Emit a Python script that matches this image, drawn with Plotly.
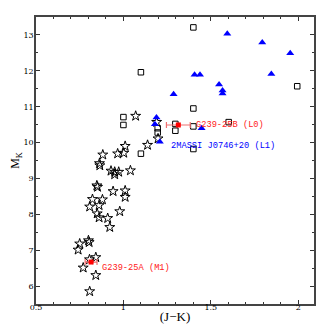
import plotly.graph_objects as go

star_x = [1.070, 1.19, 1.198, 1.138, 1.010, 1.002, 0.967, 0.882, 0.863, 0.865,
          0.929, 0.950, 0.973, 0.950, 1.040, 0.848, 0.852, 0.941, 1.010, 1.010,
          0.823, 0.880, 0.807, 0.861, 0.850, 0.861, 0.910, 0.979, 0.922, 0.800,
          0.804, 0.750, 0.741, 0.842, 0.806, 0.770, 0.842, 0.807]
star_y = [10.74, 10.57, 10.11, 9.93, 9.90, 9.71, 9.69, 9.66, 9.42, 9.36,
          9.21, 9.18, 9.18, 9.11, 9.22, 8.80, 8.76, 8.64, 8.66, 8.48,
          8.42, 8.41, 8.21, 8.25, 8.02, 7.91, 7.89, 8.08, 7.64, 7.27,
          7.22, 7.18, 7.01, 6.80, 6.74, 6.51, 6.30, 5.85]

sq_x = [1.40, 1.10, 1.994, 1.40, 1.00, 1.00, 1.196, 1.196, 1.10, 1.297, 1.297, 1.40, 1.602, 1.40]
sq_y = [13.21, 11.96, 11.57, 10.95, 10.71, 10.49, 10.40, 10.28, 9.69, 10.52, 10.33, 10.45, 10.57, 9.82]

tri_x = [1.594, 1.794, 1.954, 1.407, 1.438, 1.846, 1.547, 1.567, 1.567, 1.287, 1.447, 1.189, 1.180, 1.208]
tri_y = [13.03, 12.79, 12.49, 11.89, 11.89, 11.91, 11.62, 11.45, 11.37, 11.35, 10.40, 10.70, 10.51, 10.02]

red_x = [1.314, 0.815]
red_y = [10.49, 6.67]
red_xerr = [0.068, 0.034]
red_names = ["G239-25B (L0)", "G239-25A (M1)"]

x_ticks = [0.5, 1, 1.5, 2]
x_ticktext = ["0.5", "1", "1.5", "2"]
y_ticks = [6, 7, 8, 9, 10, 11, 12, 13]

fig = go.Figure()
fig.add_trace(go.Scatter(x=star_x, y=star_y, mode="markers",
                         marker=dict(symbol="star-open", size=7.5, color="black", line=dict(width=1, color="black"))))
fig.add_trace(go.Scatter(x=sq_x, y=sq_y, mode="markers",
                         marker=dict(symbol="square-open", size=5.5, color="black", line=dict(width=1, color="black"))))
fig.add_trace(go.Scatter(x=tri_x, y=tri_y, mode="markers",
                         marker=dict(symbol="triangle-up", size=7, color="#0000ff", line=dict(width=0))))
fig.add_trace(go.Scatter(x=red_x, y=red_y, mode="markers",
                         error_x=dict(type="data", array=red_xerr, color="#f07070", thickness=1.2, width=3),
                         marker=dict(symbol="square", size=5, color="#ff0000")))

fig.add_annotation(x=1.405, y=red_y[0], text=red_names[0], showarrow=False, xanchor="left",
                   font=dict(family="Liberation Mono", size=8.7, color="#ff2020"))
fig.add_annotation(x=0.868, y=6.49, text=red_names[1], showarrow=False, xanchor="left",
                   font=dict(family="Liberation Mono", size=8.7, color="#ff2020"))
fig.add_annotation(x=1.26, y=9.9, text="2MASSI J0746+20 (L1)", showarrow=False, xanchor="left",
                   font=dict(family="Liberation Mono", size=8.7, color="#0000ff"))

fig.update_layout(
    width=324, height=324, showlegend=False,
    plot_bgcolor="white", paper_bgcolor="white",
    margin=dict(l=28, r=18, t=9, b=28, autoexpand=False),
    font=dict(family="Liberation Serif", color="black"),
)
fig.update_xaxes(range=[0.5, 2.09], tickvals=x_ticks, ticktext=x_ticktext, automargin=False,
                 ticks="inside", ticklen=4, tickwidth=1, tickcolor="#333",
                 ticklabelstandoff=-5,
                 minor=dict(dtick=0.1, ticks="inside", ticklen=2.5, tickcolor="#333"),
                 showline=True, linecolor="#444", linewidth=1.5, mirror="allticks",
                 showgrid=False, zeroline=False,
                 tickfont=dict(size=8, family="DejaVu Serif", color="black"),
                 title=dict(text="(J\u2212K)", font=dict(size=13, family="Liberation Serif", color="black"), standoff=1))
fig.update_yaxes(range=[5.5, 13.5], tickvals=y_ticks, automargin=False,
                 ticks="inside", ticklen=4, tickwidth=1, tickcolor="#333",
                 ticklabelstandoff=-1,
                 minor=dict(dtick=0.5, ticks="inside", ticklen=2.5, tickcolor="#333"),
                 showline=True, linecolor="#444", linewidth=1.5, mirror="allticks",
                 showgrid=False, zeroline=False,
                 tickfont=dict(size=8, family="DejaVu Serif", color="black"),
                 title=dict(text="M<sub>K</sub>", font=dict(size=12, family="Liberation Serif", color="black"), standoff=4))

fig.write_html("out.html")
